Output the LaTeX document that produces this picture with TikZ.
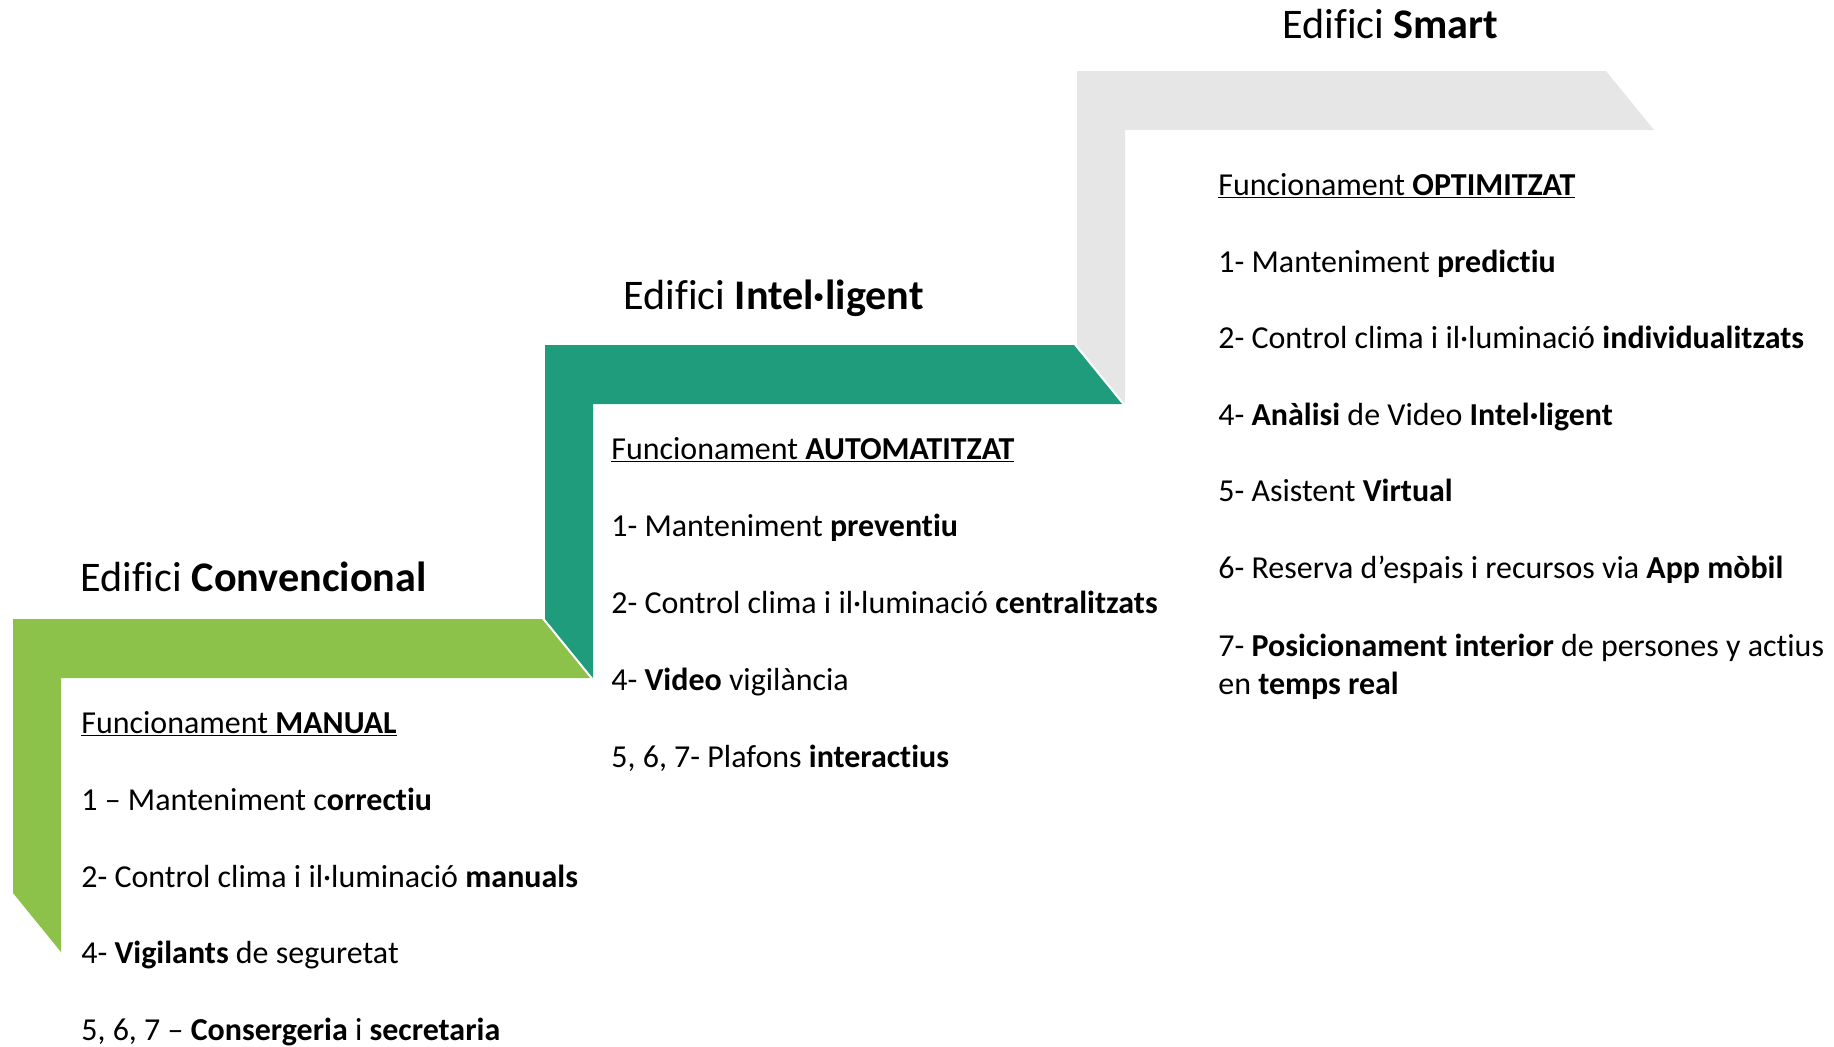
\documentclass[tikz,border=0pt]{standalone}
\usepackage{fontspec}
\setmainfont[Ligatures={NoCommon}]{Carlito}
\usepackage{tikz}
\definecolor{stepgreen}{RGB}{140,193,74}
\definecolor{stepteal}{RGB}{30,156,124}
\definecolor{stepgray}{RGB}{230,230,230}

\begin{document}
\begin{tikzpicture}[x=0.02cm, y=-0.02cm]

\tikzset{heading/.style = {anchor=base west, inner sep=0pt, font=\fontsize{24}{29}\selectfont}}
\tikzset{entry/.style = {anchor=base west, inner sep=0pt, align=left, font=\fontsize{18.2}{22}\selectfont}}
\useasboundingbox (0,0) rectangle (1834,1046);
%steps
\fill[stepgreen] (13,619) -- (542,619) -- (590,678) -- (61,678) -- (61,952) -- (13,893) -- cycle;
\fill[stepteal] (545,345) -- (1074,345) -- (1122,404) -- (593,404) -- (593,678) -- (545,619) -- cycle;
\fill[stepgray] (1077,71) -- (1606,71) -- (1654,130) -- (1125,130) -- (1125,404) -- (1077,345) -- cycle;
%convencional
\node[heading] (conv) at (80,591) {Edifici \textbf{Convencional}};
\node[entry] (conv0) at (81,733) {\underline{Funcionament \textbf{MANUAL}}};
\node[entry] (conv1) at (81,810) {1 – Manteniment c\textbf{orrectiu}};
\node[entry] (conv2) at (81,887) {2- Control clima i il·luminació \textbf{manuals}};
\node[entry] (conv4) at (81,963) {4- \textbf{Vigilants} de seguretat};
\node[entry] (conv5) at (81,1040) {5, 6, 7 – \textbf{Consergeria} i \textbf{secretaria}};
%intelligent
\node[heading] (intel) at (623,309) {Edifici \textbf{Intel·ligent}};
\node[entry] (intel0) at (611,459) {\underline{Funcionament \textbf{AUTOMATITZAT}}};
\node[entry] (intel1) at (611,536) {1- Manteniment \textbf{preventiu}};
\node[entry] (intel2) at (611,613) {2- Control clima i il·luminació \textbf{centralitzats}};
\node[entry] (intel4) at (611,690) {4- \textbf{Video} vigilància};
\node[entry] (intel5) at (611,767) {5, 6, 7- Plafons \textbf{interactius}};
%smart
\node[heading] (smart) at (1282,38) {Edifici \textbf{Smart}};
\node[entry] (smart0) at (1218,195) {\underline{Funcionament \textbf{OPTIMITZAT}}};
\node[entry] (smart1) at (1218,272) {1- Manteniment \textbf{predictiu}};
\node[entry] (smart2) at (1218,348) {2- Control clima i il·luminació \textbf{individualitzats}};
\node[entry] (smart4) at (1218,425) {4- \textbf{Anàlisi} de Video \textbf{Intel·ligent}};
\node[entry] (smart5) at (1218,501) {5- Asistent \textbf{Virtual}};
\node[entry] (smart6) at (1218,578) {6- Reserva d’espais i recursos via \textbf{App mòbil}};
\node[entry] (smart7) at (1218,656) {7- \textbf{Posicionament interior} de persones y actius};
\node[entry] (smart8) at (1218,694) {en \textbf{temps real}};

\end{tikzpicture}
\end{document}
